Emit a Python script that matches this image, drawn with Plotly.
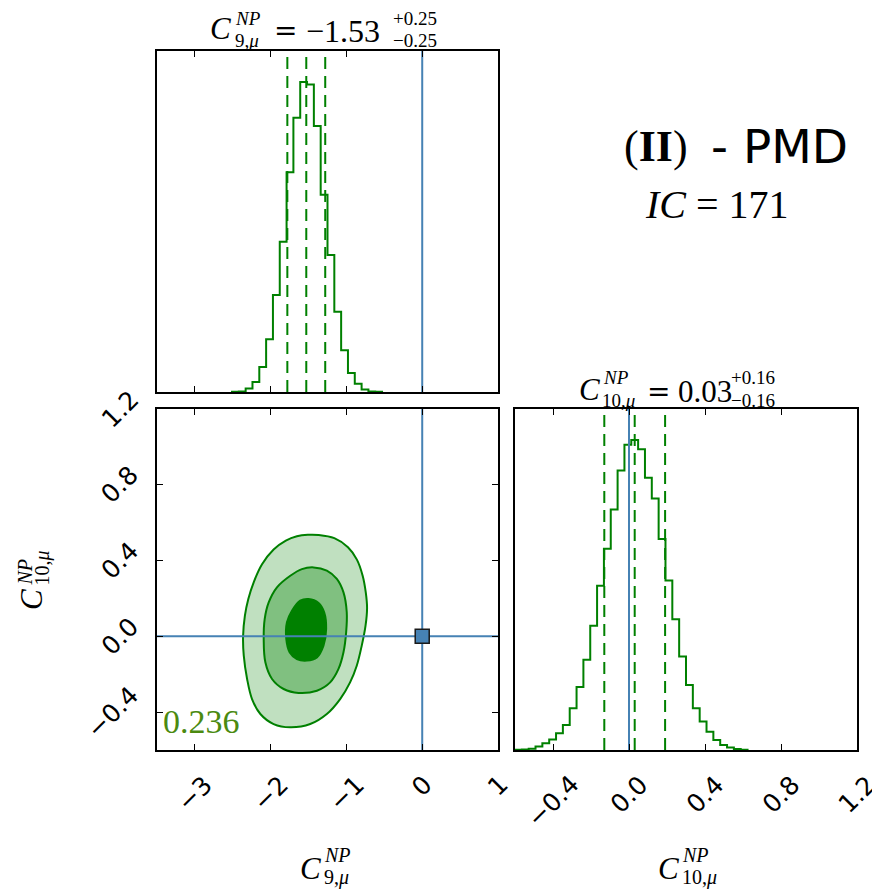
import plotly.graph_objects as go

# page body has an 8px margin: figure is sized to fit the 880x893 window
OFF = 8
W, H = 880 - OFF, 893 - OFF

# ---------------- data ----------------
c9_range = [-3.5, 1.0]
c10_range = [-0.6, 1.2]

c9_bin_width = 0.09
c9_bin_centers = [-2.465, -2.375, -2.285, -2.195, -2.105, -2.015, -1.925, -1.835,
                  -1.745, -1.655, -1.565, -1.475, -1.385, -1.295, -1.205, -1.115,
                  -1.025, -0.935, -0.845, -0.755, -0.665, -0.575]
c9_hist = [0.001, 0.002, 0.011, 0.032, 0.081, 0.170, 0.313, 0.485,
           0.709, 0.885, 1.000, 0.992, 0.858, 0.636, 0.442, 0.259,
           0.135, 0.061, 0.027, 0.008, 0.002, 0.001]

c10_bin_width = 0.036
c10_bin_centers = [-0.582, -0.546, -0.510, -0.474, -0.438, -0.402, -0.366, -0.330,
                   -0.294, -0.258, -0.222, -0.186, -0.150, -0.114, -0.078, -0.042,
                   -0.006, 0.030, 0.066, 0.102, 0.138, 0.174, 0.210, 0.246,
                   0.282, 0.318, 0.354, 0.390, 0.426, 0.462, 0.498, 0.534,
                   0.570, 0.606]
c10_hist = [0.001, 0.002, 0.004, 0.011, 0.022, 0.034, 0.054, 0.081,
            0.135, 0.203, 0.291, 0.401, 0.530, 0.649, 0.776, 0.902,
            0.985, 1.000, 0.970, 0.878, 0.811, 0.681, 0.547, 0.422,
            0.302, 0.210, 0.135, 0.092, 0.059, 0.032, 0.016, 0.008,
            0.003, 0.001]

c9_quantiles = [-1.78, -1.53, -1.28]
c10_quantiles = [-0.13, 0.03, 0.19]
truth = [0.0, 0.0]

# contour outlines (C9, C10)
outer_x = [-1.368, -1.160, -0.980, -0.862, -0.786, -0.745, -0.728, -0.748, -0.798,
           -0.864, -0.952, -1.083, -1.259, -1.478, -1.741, -1.961, -2.136, -2.246,
           -2.311, -2.355, -2.364, -2.340, -2.295, -2.224, -2.114, -1.961, -1.800,
           -1.654, -1.510]
outer_y = [0.535, 0.518, 0.470, 0.405, 0.320, 0.232, 0.150, 0.056, -0.049,
           -0.155, -0.243, -0.331, -0.410, -0.463, -0.480, -0.463, -0.410, -0.331,
           -0.225, -0.102, 0.000, 0.109, 0.197, 0.285, 0.380, 0.458, 0.505,
           0.528, 0.536]
mid_x = [-1.434, -1.259, -1.127, -1.039, -0.996, -1.004, -1.039, -1.105, -1.215,
         -1.390, -1.632, -1.829, -1.982, -2.070, -2.092, -2.079, -2.026, -1.917,
         -1.741, -1.588]
mid_y = [0.364, 0.347, 0.303, 0.232, 0.127, 0.021, -0.084, -0.172, -0.243,
         -0.287, -0.299, -0.278, -0.225, -0.137, -0.014, 0.091, 0.179, 0.259,
         0.320, 0.355]
inner_x = [-1.500, -1.368, -1.294, -1.268, -1.303, -1.390, -1.522, -1.654, -1.750,
           -1.794, -1.785, -1.719, -1.610]
inner_y = [0.197, 0.176, 0.127, 0.039, -0.049, -0.111, -0.128, -0.120, -0.084,
           -0.014, 0.074, 0.135, 0.188]

c9_ticks = [-3, -2, -1, 0, 1]
c9_ticktext = ["\u22123", "\u22122", "\u22121", "0", "1"]
c10_ticks = [-0.4, 0.0, 0.4, 0.8, 1.2]
c10_ticktext = ["\u22120.4", "0.0", "0.4", "0.8", "1.2"]

# ---------------- styling ----------------
GREEN = "#008000"
BLUE = "#4682b4"
SERIF = "Liberation Serif, Times New Roman, serif"
SANS = "DejaVu Sans, sans-serif"


def pxx(sx):
    return (sx - OFF) / W


def pxy(sy):
    return 1 - (sy - OFF) / H


dom_top = dict(x=[pxx(157), pxx(498)], y=[pxy(392), pxy(51)])
dom_bl = dict(x=[pxx(157), pxx(498)], y=[pxy(750), pxy(409)])
dom_br = dict(x=[pxx(515), pxx(857)], y=[pxy(750), pxy(409)])

fig = go.Figure()


def step_xy(centers, heights, w):
    xs = [centers[0] - w / 2]
    ys = [0]
    for c, h in zip(centers, heights):
        xs.append(c - w / 2)
        ys.append(h)
    xs.append(centers[-1] + w / 2)
    ys.append(heights[-1])
    xs.append(centers[-1] + w / 2)
    ys.append(0)
    return xs, ys


# top histogram (C9)
hx, hy = step_xy(c9_bin_centers, c9_hist, c9_bin_width)
fig.add_trace(go.Scatter(x=hx, y=hy, mode="lines", line=dict(color=GREEN, width=2, shape="hv"),
                         xaxis="x", yaxis="y", showlegend=False, hoverinfo="skip"))
for q in c9_quantiles:
    fig.add_trace(go.Scatter(x=[q, q], y=[0, 1.1], mode="lines",
                             line=dict(color=GREEN, width=2, dash="12px,7px"),
                             xaxis="x", yaxis="y", showlegend=False, hoverinfo="skip"))
fig.add_trace(go.Scatter(x=[truth[0], truth[0]], y=[0, 1.1], mode="lines",
                         line=dict(color=BLUE, width=2), xaxis="x", yaxis="y",
                         showlegend=False, hoverinfo="skip"))

# 2D contours
for xs, ys, fc in [(outer_x, outer_y, "#c0e0c0"), (mid_x, mid_y, "#80c080"), (inner_x, inner_y, GREEN)]:
    fig.add_trace(go.Scatter(x=xs + [xs[0]], y=ys + [ys[0]], mode="lines", fill="toself",
                             fillcolor=fc, line=dict(color=GREEN, width=2, shape="spline", smoothing=1.0),
                             xaxis="x2", yaxis="y2", showlegend=False, hoverinfo="skip"))
fig.add_trace(go.Scatter(x=c9_range, y=[truth[1], truth[1]], mode="lines",
                         line=dict(color=BLUE, width=2), xaxis="x2", yaxis="y2",
                         showlegend=False, hoverinfo="skip"))
fig.add_trace(go.Scatter(x=[truth[0], truth[0]], y=c10_range, mode="lines",
                         line=dict(color=BLUE, width=2), xaxis="x2", yaxis="y2",
                         showlegend=False, hoverinfo="skip"))
fig.add_trace(go.Scatter(x=[truth[0]], y=[truth[1]], mode="markers",
                         marker=dict(symbol="square", size=14, color=BLUE,
                                     line=dict(color="#1a1a1a", width=1.5)),
                         xaxis="x2", yaxis="y2", showlegend=False, hoverinfo="skip"))

# bottom-right histogram (C10)
hx, hy = step_xy(c10_bin_centers, c10_hist, c10_bin_width)
fig.add_trace(go.Scatter(x=hx, y=hy, mode="lines", line=dict(color=GREEN, width=2, shape="hv"),
                         xaxis="x3", yaxis="y3", showlegend=False, hoverinfo="skip"))
for q in c10_quantiles:
    fig.add_trace(go.Scatter(x=[q, q], y=[0, 1.1], mode="lines",
                             line=dict(color=GREEN, width=2, dash="12px,7px"),
                             xaxis="x3", yaxis="y3", showlegend=False, hoverinfo="skip"))
fig.add_trace(go.Scatter(x=[truth[1], truth[1]], y=[0, 1.1], mode="lines",
                         line=dict(color=BLUE, width=2), xaxis="x3", yaxis="y3",
                         showlegend=False, hoverinfo="skip"))

axis_common = dict(showline=True, linecolor="black", linewidth=2, mirror="ticks",
                   ticks="inside", ticklen=6, tickwidth=1.2, tickcolor="black",
                   showgrid=False, zeroline=False, showticklabels=False)

fig.update_layout(
    width=W, height=H, margin=dict(l=0, r=0, t=0, b=0),
    paper_bgcolor="white", plot_bgcolor="white",
    xaxis=dict(domain=dom_top["x"], range=c9_range, tickvals=c9_ticks, anchor="y", **axis_common),
    yaxis=dict(domain=dom_top["y"], range=[0, 1.1], anchor="x",
               **{**axis_common, "ticks": ""}),
    xaxis2=dict(domain=dom_bl["x"], range=c9_range, tickvals=c9_ticks, anchor="y2", **axis_common),
    yaxis2=dict(domain=dom_bl["y"], range=c10_range, tickvals=c10_ticks, anchor="x2", **axis_common),
    xaxis3=dict(domain=dom_br["x"], range=c10_range, tickvals=c10_ticks, anchor="y3", **axis_common),
    yaxis3=dict(domain=dom_br["y"], range=[0, 1.1], anchor="x3",
                **{**axis_common, "ticks": ""}),
)

ann = []
TICKFONT = dict(family=SANS, size=25, color="black")
# tick labels (rotated 45 deg)
for v, t in zip(c9_ticks, c9_ticktext):
    ann.append(dict(x=v, xref="x2", y=pxy(767), yref="paper", text=t, showarrow=False,
                    textangle=-45, xanchor="center", yanchor="top", font=TICKFONT))
for v, t in zip(c10_ticks, c10_ticktext):
    ann.append(dict(x=v, xref="x3", y=pxy(767), yref="paper", text=t, showarrow=False,
                    textangle=-45, xanchor="center", yanchor="top", font=TICKFONT))
for v, t in zip(c10_ticks, c10_ticktext):
    ann.append(dict(x=pxx(147), xref="paper", y=v, yref="y2", text=t, showarrow=False,
                    textangle=-45, xanchor="right", yanchor="middle", font=TICKFONT))


def txt(sx, sy, text, size, family=SERIF, xanchor="left", angle=0, color="black", yanchor="middle"):
    ann.append(dict(x=pxx(sx), y=pxy(sy), xref="paper", yref="paper", text=text, showarrow=False,
                    xanchor=xanchor, yanchor=yanchor, textangle=angle,
                    font=dict(family=family, size=size, color=color)))


# title above top panel
txt(220, 29, "<i>C</i>", 31, xanchor="center")
txt(233, 19, "<i>NP</i>", 19)
txt(233, 40, "9,<i>\u03bc</i>", 19)
txt(272, 31, "=", 28, family=SANS)
txt(304, 31, "\u22121.53", 32)
txt(391, 19, "+0.25", 19)
txt(391, 41, "\u22120.25", 19)

# title above bottom-right panel
txt(589, 389, "<i>C</i>", 31, xanchor="center")
txt(601, 377, "<i>NP</i>", 19)
txt(600, 400, "10,<i>\u03bc</i>", 19)
txt(645, 391, "=", 28, family=SANS)
txt(676, 391, "0.03", 31)
txt(729, 377, "+0.16", 19)
txt(729, 400, "\u22120.16", 19)

# x axis labels
txt(310, 868, "<i>C</i>", 31, xanchor="center")
txt(322, 855, "<i>NP</i>", 20)
txt(322, 877, "9,<i>\u03bc</i>", 20)
txt(668, 868, "<i>C</i>", 31, xanchor="center")
txt(680, 855, "<i>NP</i>", 20)
txt(680, 877, "10,<i>\u03bc</i>", 20)

# y axis label (rotated)
txt(31, 600, "<i>C</i>", 31, xanchor="center", angle=-90)
txt(24, 588, "<i>NP</i>", 20, xanchor="center", angle=-90, yanchor="bottom")
txt(42, 588, "10,<i>\u03bc</i>", 20, xanchor="center", angle=-90, yanchor="bottom")

# corner annotation
ann.append(dict(x=0.012, y=0.022, xref="x2 domain", yref="y2 domain", text="0.236",
                showarrow=False, xanchor="left", yanchor="bottom",
                font=dict(family=SERIF, size=34, color="#4b8a10")))

# model label
txt(622, 146, "(<b>II</b>)", 44)
txt(709, 146, "- PMD", 47, family=SANS)
txt(643, 204, "<i>IC</i> = 171", 40)

fig.update_layout(annotations=ann)
fig.write_html("out.html")
